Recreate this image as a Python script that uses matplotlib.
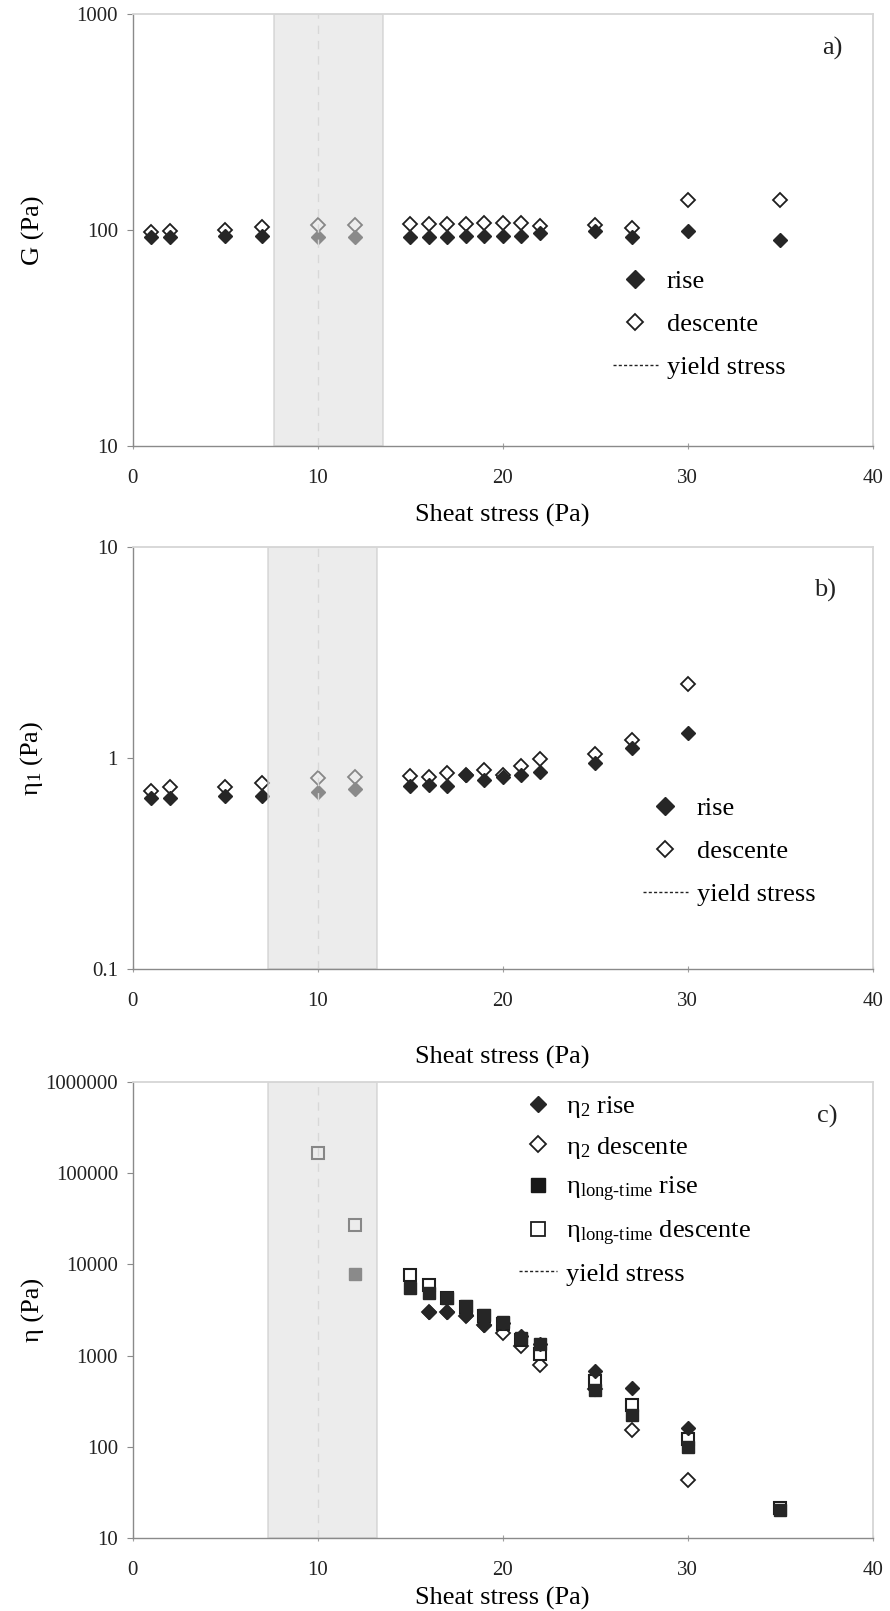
import matplotlib
matplotlib.use('Agg')
import matplotlib.pyplot as plt
from matplotlib.lines import Line2D
from matplotlib.ticker import FixedLocator, FixedFormatter, NullLocator

plt.rcParams['font.family'] = ['Liberation Serif', 'DejaVu Serif']
plt.rcParams['mathtext.fontset'] = 'custom'
plt.rcParams['mathtext.rm'] = 'Liberation Serif'
plt.rcParams['mathtext.it'] = 'Liberation Serif:italic'
plt.rcParams['mathtext.bf'] = 'Liberation Serif:bold'

# ---------------- data ----------------
stress_a = [1, 2, 5, 7, 10, 12, 15, 16, 17, 18, 19, 20, 21, 22, 25, 27, 30, 35]
G_rise = [93, 93, 94, 94, 93, 93, 93, 93, 93, 94.5, 94.5, 94.5, 94, 97, 99, 93, 99, 90]
G_desc = [98, 99, 100, 103, 106, 106, 107, 107, 107, 107, 108, 108, 108, 105, 106, 102, 138, 138]

stress_b = [1, 2, 5, 7, 10, 12, 15, 16, 17, 18, 19, 20, 21, 22, 25, 27, 30]
eta1_rise = [0.644, 0.644, 0.658, 0.658, 0.69, 0.713, 0.74, 0.745, 0.74, 0.834,
             0.787, 0.816, 0.834, 0.861, 0.947, 1.12, 1.32]
eta1_desc = [0.70, 0.726, 0.73, 0.758, 0.80, 0.81, 0.82, 0.815, 0.846, 0.834,
             0.877, 0.83, 0.913, 0.99, 1.04, 1.22, 2.24]

stress_eta2 = [16, 17, 18, 19, 20, 21, 22, 25, 27, 30]
eta2_rise = [3010, 3010, 2810, 2180, 2250, 1650, 1350, 672, 445, 161]
eta2_desc = [3000, 3000, 2700, 2150, 1750, 1260, 795, 430, 152, 43.6]

stress_lt_desc = [10, 12, 15, 16, 17, 18, 19, 20, 21, 22, 25, 27, 30, 35]
lt_desc = [166000, 26800, 7700, 5950, 4300, 3450, 2750, 2200, 1500, 1050, 522, 290, 122, 21.5]
stress_lt_rise = [12, 15, 16, 17, 18, 19, 20, 21, 22, 25, 27, 30, 35]
lt_rise = [7780, 5500, 4850, 4280, 3470, 2810, 2320, 1560, 1340, 423, 225, 98.6, 20.5]

yield_stress = 10
zone_a = (7.65, 13.55)
zone_bc = (7.3, 13.2)

x_ticks = [0, 10, 20, 30, 40]
yt_a = [10, 100, 1000]
yt_b = [0.1, 1, 10]
yt_c = [10, 100, 1000, 10000, 100000, 1000000]
yl_a = ['10', '100', '1000']
yl_b = ['0.1', '1', '10']
yl_c = ['10', '100', '1000', '10000', '100000', '1000000']

# ---------------- style ----------------
DARK = '#262626'
EDGE = '#1e1e1e'
W, H = 890, 1611
fig = plt.figure(figsize=(W / 100, H / 100), dpi=100)


def rect(top, bottom, left=132.6, right=872.6):
    return [left / W, 1 - bottom / H, (right - left) / W, (bottom - top) / H]


def style_axes(ax, yt, yl, zone):
    ax.set_yscale('log')
    ax.set_xlim(0, 40)
    ax.set_ylim(yt[0], yt[-1])
    ax.xaxis.set_major_locator(FixedLocator(x_ticks))
    ax.yaxis.set_major_locator(FixedLocator(yt))
    ax.yaxis.set_major_formatter(FixedFormatter(yl))
    ax.yaxis.set_minor_locator(NullLocator())
    ax.xaxis.set_minor_locator(NullLocator())
    for s in ('left', 'bottom'):
        ax.spines[s].set_color('#8a8a8a')
        ax.spines[s].set_linewidth(1.0)
    for s in ('top', 'right'):
        ax.spines[s].set_color('#d6d6d6')
        ax.spines[s].set_linewidth(1.3)
    ax.tick_params(axis='y', direction='out', length=4.5, width=0.8, color='#8a8a8a',
                   labelsize=15, pad=6, labelcolor='#222222')
    ax.tick_params(axis='x', direction='inout', length=5, width=0.8, color='#a0a0a0',
                   labelsize=15, pad=14, labelcolor='#222222')
    # yield stress zone (translucent overlay) and yield line
    ax.axvspan(zone[0], zone[1], facecolor=(0.87, 0.87, 0.87, 0.55),
               edgecolor=(0.80, 0.80, 0.80, 0.7), lw=1.2, zorder=2.3)
    ax.axvline(yield_stress, color='#d8d8d8', lw=1.0, ls=(0, (6, 5)), zorder=2.35)


legend_kw = dict(frameon=False, borderpad=0, borderaxespad=0, fontsize=19,
                 bbox_transform=fig.transFigure)

yield_handle = Line2D([], [], color='#222222', lw=1.0, ls=(0, (2.2, 1.6)))

MS_D = 7.6

# ---------------- panel a ----------------
ax1 = fig.add_axes(rect(14.4, 446))
style_axes(ax1, yt_a, yl_a, zone_a)
ax1.plot(stress_a, G_desc, ls='none', marker='D', ms=MS_D, mfc='white', mec=EDGE, mew=1.3, zorder=2)
ax1.plot(stress_a, G_rise, ls='none', marker='D', ms=MS_D, mfc=DARK, mec=DARK, zorder=2.1)
ax1.set_ylabel('G (Pa)', fontsize=19)
ax1.yaxis.set_label_coords(-0.118, 0.5)
ax1.set_xlabel('Sheat stress (Pa)', fontsize=19)
ax1.xaxis.set_label_coords(0.5, -0.134)
h_rise = Line2D([], [], ls='none', marker='D', ms=9.5, mfc=DARK, mec=DARK)
h_desc = Line2D([], [], ls='none', marker='D', ms=8.5, mfc='white', mec=EDGE, mew=1.3)
ax1.legend([h_rise, h_desc, yield_handle], ['rise', 'descente', 'yield stress'],
           loc='upper left', bbox_to_anchor=(613 / W, 1 - 270 / H),
           handlelength=1.7, handletextpad=0.34, labelspacing=0.73, **legend_kw)
fig.text(832 / W, 1 - 48 / H, 'a)', fontsize=19, ha='center', va='center', color='#222222')

# ---------------- panel b ----------------
ax2 = fig.add_axes(rect(547, 969))
style_axes(ax2, yt_b, yl_b, zone_bc)
ax2.plot(stress_b, eta1_desc, ls='none', marker='D', ms=MS_D, mfc='white', mec=EDGE, mew=1.3, zorder=2)
ax2.plot(stress_b, eta1_rise, ls='none', marker='D', ms=MS_D, mfc=DARK, mec=DARK, zorder=2.1)
ax2.set_ylabel('η$_1$ (Pa)', fontsize=19)
ax2.yaxis.set_label_coords(-0.118, 0.5)
ax2.set_xlabel('Sheat stress (Pa)', fontsize=19)
ax2.xaxis.set_label_coords(0.5, -0.182)
ax2.legend([h_rise, h_desc, yield_handle], ['rise', 'descente', 'yield stress'],
           loc='upper left', bbox_to_anchor=(643 / W, 1 - 797 / H),
           handlelength=1.7, handletextpad=0.34, labelspacing=0.73, **legend_kw)
fig.text(825 / W, 1 - 590 / H, 'b)', fontsize=19, ha='center', va='center', color='#222222')

# ---------------- panel c ----------------
ax3 = fig.add_axes(rect(1082, 1538))
style_axes(ax3, yt_c, yl_c, zone_bc)
ax3.plot(stress_eta2, eta2_desc, ls='none', marker='D', ms=MS_D, mfc='white', mec=EDGE, mew=1.3, zorder=2)
ax3.plot(stress_lt_desc, lt_desc, ls='none', marker='s', ms=9.3, mfc='white', mec=EDGE, mew=1.5, zorder=2.05)
ax3.plot(stress_lt_rise, lt_rise, ls='none', marker='s', ms=9.3, mfc=DARK, mec=DARK, zorder=2.1)
ax3.plot(stress_eta2, eta2_rise, ls='none', marker='D', ms=MS_D, mfc=DARK, mec=DARK, zorder=2.15)
ax3.set_ylabel('η (Pa)', fontsize=19)
ax3.yaxis.set_label_coords(-0.118, 0.5)
ax3.set_xlabel('Sheat stress (Pa)', fontsize=19)
ax3.xaxis.set_label_coords(0.5, -0.107)
h2r = Line2D([], [], ls='none', marker='D', ms=8.5, mfc=DARK, mec=DARK)
h2d = Line2D([], [], ls='none', marker='D', ms=8, mfc='white', mec=EDGE, mew=1.3)
hlr = Line2D([], [], ls='none', marker='s', ms=9.5, mfc='#181818', mec='#181818')
hld = Line2D([], [], ls='none', marker='s', ms=9.5, mfc='white', mec=EDGE, mew=1.3)
ax3.legend([h2r, h2d, hlr, hld, yield_handle],
           ['η$_2$ rise', 'η$_2$ descente', 'η$_{\\mathrm{long‐time}}$ rise',
            'η$_{\\mathrm{long‐time}}$ descente', 'yield stress'],
           loc='upper left', bbox_to_anchor=(519 / W, 1 - 1094 / H),
           handlelength=1.45, handletextpad=0.35, labelspacing=0.55, **legend_kw)
fig.text(827 / W, 1 - 1116 / H, 'c)', fontsize=19, ha='center', va='center', color='#222222')

fig.savefig('out.png', dpi=100, facecolor='white')
